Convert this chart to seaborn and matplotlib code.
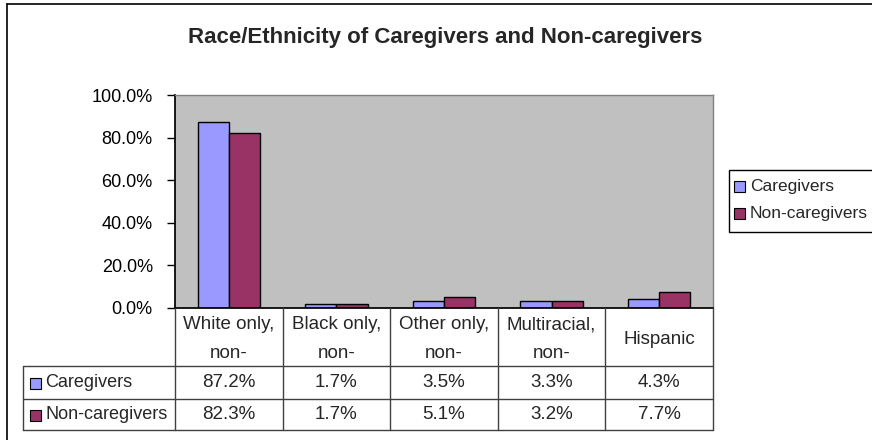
import matplotlib
matplotlib.use('Agg')
import matplotlib.pyplot as plt
from matplotlib.lines import Line2D
from matplotlib.patches import Rectangle
import pandas as pd
import seaborn as sns

categories = ['White only,\nnon-', 'Black only,\nnon-', 'Other only,\nnon-', 'Multiracial,\nnon-', 'Hispanic']
series = ['Caregivers', 'Non-caregivers']
caregivers = [87.2, 1.7, 3.5, 3.3, 4.3]
non_caregivers = [82.3, 1.7, 5.1, 3.2, 7.7]
yticks = [0, 20, 40, 60, 80, 100]

colors = ['#9999FF', '#993366']

df = pd.DataFrame({
    'category': categories * 2,
    'group': [series[0]] * 5 + [series[1]] * 5,
    'value': caregivers + non_caregivers,
})

sns.set_theme(style='white')
plt.rcParams['font.family'] = ['Liberation Sans', 'DejaVu Sans']

W, H = 872, 440
fig = plt.figure(figsize=(W / 100, H / 100), dpi=100)


def fx(px):
    return px / W


def fy(py):
    return 1 - py / H


# plot area in pixels
L, R, T, B = 175, 713, 95, 308
ax = fig.add_axes([fx(L), fy(B), fx(R - L), (B - T) / H])
ax.set_facecolor('#C0C0C0')

sns.barplot(data=df, x='category', y='value', hue='group', palette=colors,
            width=0.58, edgecolor='black', linewidth=1, ax=ax, legend=False,
            saturation=1)

ax.set_ylim(0, 100)
ax.set_xlim(-0.5, 4.5)
ax.set_yticks(yticks)
ax.set_yticklabels([f'{v:.1f}%' for v in yticks], fontsize=13, color='black')
ax.set_xticks([])
ax.set_xlabel('')
ax.set_ylabel('')
ax.tick_params(axis='y', direction='out', length=6, width=1, color='black', left=True, pad=10)
for side in ['top', 'right']:
    ax.spines[side].set_color('#808080')
    ax.spines[side].set_linewidth(1)
ax.spines['left'].set_color('black')
ax.spines['bottom'].set_color('black')

# title
fig.text(fx(445), fy(37), 'Race/Ethnicity of Caregivers and Non-caregivers',
         ha='center', va='center', fontsize=16, fontweight='bold')

# outer chart border (left and top visible)
fig.add_artist(Line2D([fx(7), fx(7)], [fy(4), fy(440)], color='black', lw=1.2, transform=fig.transFigure))
fig.add_artist(Line2D([fx(7), fx(872)], [fy(4), fy(4)], color='black', lw=1.2, transform=fig.transFigure))

# data table
col_edges = [L + i * (R - L) / 5 for i in range(6)]
row_edges = [B, 366, 399, 430]
lc = '#404040'


def hline(x0, x1, y):
    fig.add_artist(Line2D([fx(x0), fx(x1)], [fy(y), fy(y)], color=lc, lw=1, transform=fig.transFigure))


def vline(x, y0, y1):
    fig.add_artist(Line2D([fx(x), fx(x)], [fy(y0), fy(y1)], color=lc, lw=1, transform=fig.transFigure))


hline(23, R, row_edges[1])
hline(23, R, row_edges[2])
hline(23, R, row_edges[3])
vline(23, row_edges[1], row_edges[3])
for x in col_edges:
    vline(x, B, row_edges[3])

for i, cat in enumerate(categories):
    cx = (col_edges[i] + col_edges[i + 1]) / 2
    fig.text(fx(cx), fy((row_edges[0] + row_edges[1]) / 2 + 2), cat, ha='center', va='center',
             fontsize=13.5, linespacing=1.85)
    fig.text(fx(cx), fy((row_edges[1] + row_edges[2]) / 2), f'{caregivers[i]:.1f}%',
             ha='center', va='center', fontsize=13.5)
    fig.text(fx(cx), fy((row_edges[2] + row_edges[3]) / 2), f'{non_caregivers[i]:.1f}%',
             ha='center', va='center', fontsize=13.5)

for j, name in enumerate(series):
    cy = (row_edges[j + 1] + row_edges[j + 2]) / 2
    fig.add_artist(Rectangle((fx(30), fy(cy + 6)), fx(11), 11 / H, facecolor=colors[j],
                             edgecolor='black', lw=0.8, transform=fig.transFigure))
    fig.text(fx(45), fy(cy), name, ha='left', va='center', fontsize=13)

# legend box
fig.add_artist(Rectangle((fx(729), fy(232)), fx(160), 62 / H, facecolor='white',
                         edgecolor='black', lw=1, transform=fig.transFigure))
for j, name in enumerate(series):
    cy = 186 + j * 27
    fig.add_artist(Rectangle((fx(734), fy(cy + 6)), fx(11), 11 / H, facecolor=colors[j],
                             edgecolor='black', lw=0.8, transform=fig.transFigure))
    fig.text(fx(750), fy(cy), name, ha='left', va='center', fontsize=12.5)

fig.savefig('out.png', dpi=100, facecolor='white')
